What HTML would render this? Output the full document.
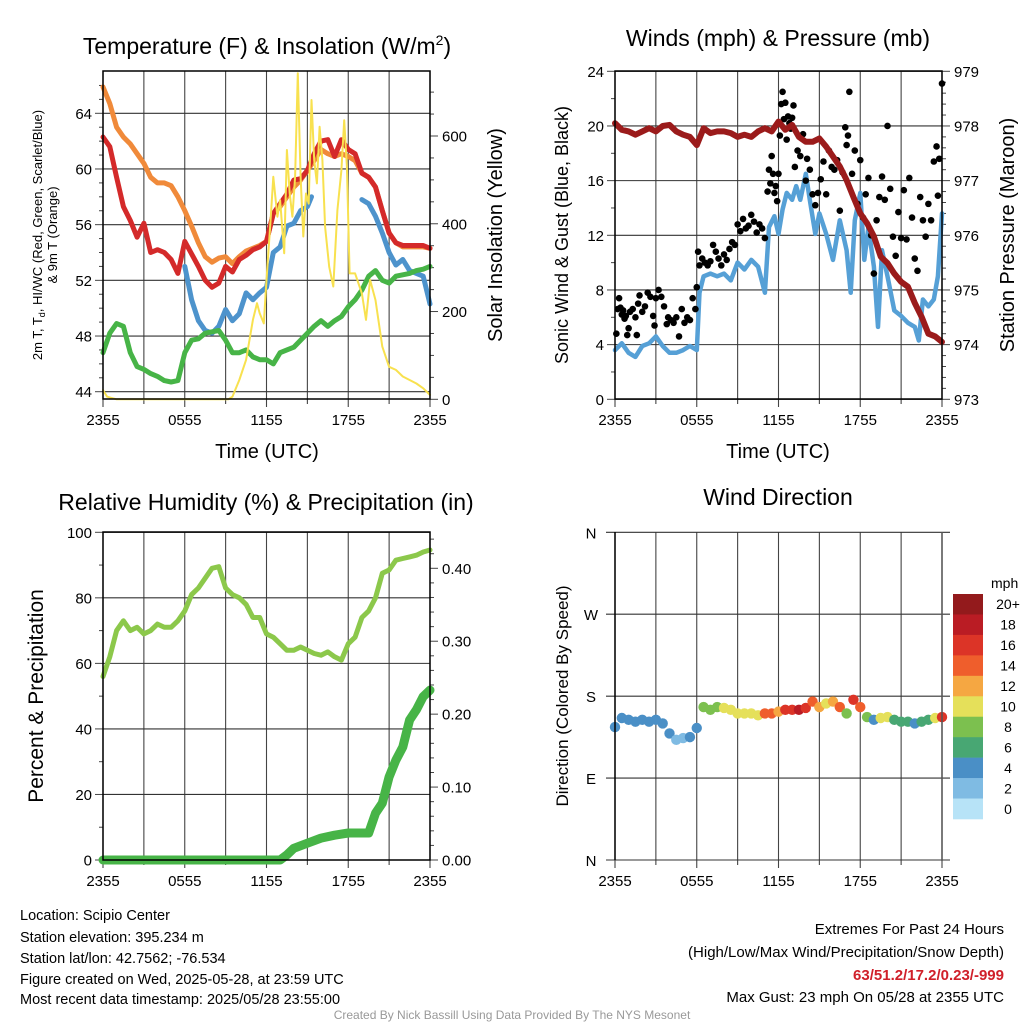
<!DOCTYPE html>
<html><head><meta charset="utf-8"><style>
html,body{margin:0;padding:0;background:#fff;}
svg{display:block;font-family:"Liberation Sans",sans-serif;}
</style></head><body>
<svg id="c" width="1024" height="1024" viewBox="0 0 1024 1024" xmlns="http://www.w3.org/2000/svg">
<g id="g"></g>
<text x="267" y="54" font-size="23" text-anchor="middle">Temperature (F) &amp; Insolation (W/m<tspan dy="-9" font-size="14">2</tspan><tspan dy="9">)</tspan></text>
<text x="778" y="46" font-size="23" text-anchor="middle">Winds (mph) &amp; Pressure (mb)</text>
<text x="266" y="510" font-size="23" text-anchor="middle">Relative Humidity (%) &amp; Precipitation (in)</text>
<text x="778" y="505" font-size="23" text-anchor="middle">Wind Direction</text>
<text x="267" y="458" font-size="20" text-anchor="middle">Time (UTC)</text>
<text x="778" y="458" font-size="20" text-anchor="middle">Time (UTC)</text>
<text transform="translate(42,235) rotate(-90)" font-size="13" text-anchor="middle">2m T, T<tspan dy="3" font-size="9">d</tspan><tspan dy="-3">, HI/WC (Red, Green, Scarlet/Blue)</tspan></text>
<text transform="translate(57,235) rotate(-90)" font-size="13" text-anchor="middle">&amp; 9m T (Orange)</text>
<text transform="translate(502,235) rotate(-90)" font-size="20" text-anchor="middle">Solar Insolation (Yellow)</text>
<text transform="translate(568,235) rotate(-90)" font-size="18" text-anchor="middle">Sonic Wind &amp; Gust (Blue, Black)</text>
<text transform="translate(1014,235) rotate(-90)" font-size="20" text-anchor="middle">Station Pressure (Maroon)</text>
<text transform="translate(43,696) rotate(-90)" font-size="21" text-anchor="middle">Percent &amp; Precipitation</text>
<text transform="translate(568,696) rotate(-90)" font-size="17" text-anchor="middle">Direction (Colored By Speed)</text>
<text x="991" y="588" font-size="14">mph</text>
<g font-size="14.5">
<text x="20" y="920">Location: Scipio Center</text>
<text x="20" y="942">Station elevation: 395.234 m</text>
<text x="20" y="963">Station lat/lon: 42.7562; -76.534</text>
<text x="20" y="984">Figure created on Wed, 2025-05-28, at 23:59 UTC</text>
<text x="20" y="1004">Most recent data timestamp: 2025/05/28 23:55:00</text>
</g>
<g font-size="15" text-anchor="end">
<text x="1004" y="934">Extremes For Past 24 Hours</text>
<text x="1004" y="957">(High/Low/Max Wind/Precipitation/Snow Depth)</text>
<text x="1004" y="980" fill="#d0202a" font-weight="bold">63/51.2/17.2/0.23/-999</text>
<text x="1004" y="1002">Max Gust: 23 mph On 05/28 at 2355 UTC</text>
</g>
<text x="512" y="1019" font-size="12" fill="#999" text-anchor="middle">Created By Nick Bassill Using Data Provided By The NYS Mesonet</text>
</svg>
<script>
// ---- data (hours since 2355) ----
const tempHours=[0,0.5,1,1.5,2,2.5,3,3.5,4,4.5,5,5.5,6,6.5,7,7.5,8,8.5,9,9.5,10,10.5,11,11.5,12,12.5,13,13.5,14,14.5,15,15.5,16,16.5,17,17.5,18,18.5,19,19.5,20,20.5,21,21.5,22,22.5,23,23.5,24];
const tempRed=[62.3,61.6,59.4,57.3,56.3,55.1,56.1,54,54.2,54,53.5,52.5,54.8,53.9,53,52,51.5,51.8,53,52.6,53.5,53.8,54.2,54.4,54.8,56.8,57.5,58.2,59.2,59.3,59.9,61.1,62,62.1,60.9,62.1,61.4,61.1,59.7,59.4,58.7,57,55.4,54.7,54.5,54.5,54.5,54.5,54.3];
const temp9m=[65.9,64.7,63,62.3,61.8,61.1,60.4,59.4,59,59,58.8,58,57,55.9,54.7,53.7,53.3,53.6,53.7,53.2,53.7,54.1,54.3,54.5,54.8,56.8,57.3,58,58.7,59.2,59.9,60.6,61.4,61.1,60.9,61.1,60.9,60.6,59.7,59.4,58.7,57,55.4,54.7,54.4,54.4,54.4,54.4,54.3];
const tempDew=[46.8,48.2,48.9,48.7,46.8,45.8,45.6,45.3,45.1,44.8,44.7,44.8,46.8,47.7,47.8,48.2,48.3,48.4,47.7,46.8,46.8,47,46.5,46.3,46.3,46,46.8,47,47.2,47.7,48.2,48.7,49.1,48.7,49.1,49.4,50.1,50.6,51.3,52.3,52.7,52,51.8,52.3,52.4,52.5,52.7,52.8,53];
const hiwcHours=[6,6.5,7,7.5,8,8.5,9,9.5,10,10.5,11,11.5,12,12.5,13,13.5,14,14.5,15,15.3,null,19,19.5,20,20.5,21,21.5,22,22.5,23,23.5,24];
const hiwc=[53,50.6,49.1,48.4,48.2,48.7,49.9,49.1,49.6,51.1,50.6,51.1,51.5,54,54.4,55.9,56.1,57,57.3,58,null,57.8,57.5,56.6,55.4,54,53.1,53.5,52.7,52.5,52.3,50.3];
const solHours=[0,0.3,1,9.2,9.5,10,10.5,11,11.3,11.5,11.8,12,12.3,12.5,12.8,13,13.3,13.5,13.7,13.9,14.1,14.3,14.5,14.7,14.9,15.1,15.3,15.5,15.7,15.9,16.1,16.3,16.6,16.9,17.2,17.5,17.7,17.9,18.1,18.5,19,19.3,19.6,20,20.5,21,21.5,22,22.5,23,23.5,24];
const solar=[21,6,0,0,6,44,90,181,219,196,173,272,409,507,416,454,333,568,469,416,507,743,507,371,469,446,682,545,492,621,545,393,302,257,431,522,636,530,287,287,241,181,272,226,120,74,67,52,44,36,25,10];
const windHours=[0,0.5,1,1.5,2,2.5,3,3.5,4,4.5,5,5.5,6,6.2,6.5,7,7.5,8,8.5,9,9.5,10,10.5,11,11.3,11.7,12,12.3,12.6,13,13.3,13.6,14,14.3,14.7,15,15.5,16,16.5,17,17.3,17.6,18,18.3,18.6,19,19.3,19.6,20,20.5,21,21.5,22,22.3,22.6,23,23.4,23.7,24];
const windSpeed=[3.6,4.1,3.4,3.1,3.9,4.1,4.6,3.9,3.4,3.4,3.6,3.9,3.6,7.8,9,9.2,9,9.2,8.7,10,9.5,10.2,9.7,7.8,12.6,13.4,12.1,13.9,15.1,14.6,15.6,14.6,16.5,14.6,12.1,13.6,12.1,10.2,13.1,10.9,7.8,13.1,15.1,10.2,12.6,9.7,5.3,10.9,9,6.5,6.1,5.6,5.3,4.3,7.3,6.8,7.3,9,13.6];
const gustHours=[0.1,0.2,0.3,0.4,0.5,0.6,0.7,0.8,0.9,1.0,1.1,1.3,1.5,1.6,1.7,1.8,2.0,2.2,2.4,2.6,2.8,2.9,3.0,3.2,3.4,3.6,3.8,3.9,4.1,4.3,4.5,4.7,4.9,5.1,5.3,5.5,5.7,5.9,6.0,6.1,6.2,6.4,6.6,6.8,7.0,7.2,7.4,7.6,7.8,8.0,8.2,8.4,8.6,8.8,9.0,9.2,9.4,9.6,9.8,10.0,10.2,10.4,10.6,10.8,11.0,11.2,11.3,11.4,11.5,11.6,11.7,11.8,11.9,12.0,12.1,12.2,12.3,12.4,12.5,12.6,12.7,12.8,12.9,13.0,13.1,13.2,13.4,13.6,13.8,14.0,14.1,14.3,14.5,14.7,14.9,15.1,15.3,15.5,15.7,15.9,16.1,16.3,16.5,16.7,16.9,17.0,17.1,17.2,17.4,17.6,17.8,18.0,18.2,18.4,18.6,18.8,19.0,19.2,19.4,19.6,19.8,20.0,20.2,20.4,20.6,20.8,21.0,21.2,21.4,21.6,21.8,22.0,22.2,22.4,22.6,22.8,23.0,23.2,23.4,23.6,23.7,23.8,24.0];
const gust=[4.8,6.6,7.4,6.7,6.2,6.5,5.9,6.1,4.7,5.2,6.4,6.6,6.0,4.7,7.0,7.6,6.4,6.8,7.8,7.5,6.1,5.4,7.4,8.0,7.5,6.8,5.5,6.0,5.8,5.6,6.0,4.6,6.6,5.6,6.0,5.8,7.4,6.6,8.2,10.8,9.8,10.3,10.0,9.8,10.1,11.3,10.8,10.3,9.8,10.6,10.2,11.0,11.5,11.3,12.8,12.3,13.2,12.5,12.7,13.5,13.0,12.2,12.8,12.5,11.8,15.2,16.8,15.8,17.8,16.5,15.1,15.6,14.5,16.5,19.3,21.6,22.5,20.5,21.7,19.0,20.7,20.2,19.8,20.6,21.5,17.0,18.2,17.8,19.4,16.0,17.6,16.8,15.0,14.2,15.1,16.1,17.4,15.0,18.2,17.0,16.8,17.5,13.8,16.6,19.9,18.6,19.3,22.5,16.5,18.2,14.3,17.5,13.3,15.0,16.2,12.0,9.2,13.1,14.8,16.3,14.6,20.0,15.4,11.9,10.5,13.7,11.8,15.3,11.7,16.2,13.3,10.3,9.4,14.8,13.1,11.9,14.3,13.1,17.4,18.5,14.9,17.6,23.1];
const presHours=tempHours;
const pressure=[978.05,977.93,977.9,977.84,977.9,977.96,977.9,978,978.02,977.9,977.84,977.8,977.65,977.96,977.87,977.9,977.9,977.87,977.8,977.84,977.8,977.9,977.96,977.9,978.08,977.93,978.02,977.8,977.71,977.71,977.77,977.62,977.44,977.26,977.01,976.7,976.4,976.22,975.98,975.61,975.49,975.3,975.15,975.06,974.76,974.51,974.2,974.15,974.05];
const rh=[56,62,70,73,70,71,69,70,72,71,71,73,76,81,83,86,89,89.5,83,81,80,78,74,74,69,68,66,64,64,65,64,63,62.5,63.5,62,61,66,68,74,76,80,87.5,88.5,91.5,92,92.5,93,94,94.6];
const precipHours=[0,13,13.5,14,15,16,17,18,19,19.5,20,20.5,21,21.5,22,22.5,23,23.5,24];
const precip=[0,0,0.007,0.016,0.023,0.03,0.034,0.037,0.037,0.037,0.064,0.078,0.114,0.137,0.155,0.192,0.206,0.224,0.233];
const dirHours=tempHours;
const direction=[146,156,154,152,154,152,154,150,139,132,134,135,145,168,165,168,167,165,161,161,161,159,161,161,163,165,165,165,167,174,168,172,174,168,161,176,168,157,154,156,157,154,152,152,150,152,154,156,157];
const dirSpeed=[4,4,4,4,4,4,4,4,3,2.5,2.5,3,4,8,8,8.5,9,10,10,10,10,9,13,14,12.5,16,16,17,16,14,12,10,11,14,8,16,14,7,4,10,10,6,6,6,4,6,6,10,15];
const xTickLabels=["2355","0555","1155","1755","2355"];
const cbLabels=["20+","18","16","14","12","10","8","6","4","2","0"];
const cbColors=["#931a1c","#ba1c24","#dc3427","#ef5e2c","#f5a742","#e5e05a","#7cc04f","#48a773","#4a8fc6","#7fbbe3","#b7e3f7"];

const NS="http://www.w3.org/2000/svg";
const G=document.getElementById('g');
function mk(tag,attrs,parent){const e=document.createElementNS(NS,tag);for(const k in attrs)e.setAttribute(k,attrs[k]);(parent||G).appendChild(e);return e;}
function lin(d0,d1,r0,r1){return v=>r0+(v-d0)*(r1-r0)/(d1-d0);}

function frame(x0,x1,y0,y1,name){
  const gr=mk('g',{});
  
  
  const xs=lin(0,24,x0,x1);
  for(let h=0;h<=24;h+=3){const x=xs(h);mk('line',{x1:x,x2:x,y1:y0,y2:y1+(h%6===0?8:5),stroke:'#444','stroke-width':1.1},gr);}
  xTickLabels.forEach((t,i)=>{const tx=mk('text',{x:xs(i*6),y:y1+26,'font-size':15,'text-anchor':'middle'});tx.textContent=t;
    
    });
  return xs;
}
function yaxis(ys,x0,x1,lo,hi,step,minor,labels,side,grid,name){
  const gr=mk('g',{});
  
  
  for(let v=lo;v<=hi+1e-9;v+=minor){const y=ys(v);const major=Math.abs((v-lo)/step-Math.round((v-lo)/step))<1e-6;
    if(side==='l'){mk('line',{x1:x0-(major?8:4),x2:x0,y1:y,y2:y,stroke:'#444'},gr);}
    else{mk('line',{x1:x1,x2:x1+(major?8:4),y1:y,y2:y,stroke:'#444'},gr);}
    if(major&&grid)mk('line',{x1:x0,x2:x1,y1:y,y2:y,stroke:'#333','stroke-width':1.1},gr);
  }
  labels.forEach(([v,t])=>{const y=ys(v);const tx=mk('text',{x:side==='l'?x0-11:x1+12,y:y+5.5,'font-size':15,'text-anchor':side==='l'?'end':'start'},gr);tx.textContent=t;});
}
function line(xs,ys,hs,vs,color,w,name){
  let d='',pen=false;
  hs.forEach((h,i)=>{if(h===null||vs[i]===null){pen=false;return;}d+=(pen?'L':'M')+xs(h).toFixed(1)+','+ys(vs[i]).toFixed(1);pen=true;});
  const p=mk('path',{d:d,fill:'none',stroke:color,'stroke-width':w,'stroke-linejoin':'round','stroke-linecap':'round'});
  
  
  return p;
}

// Panel 1
const p1={x0:103,x1:430,y0:71,y1:399};
let xs=frame(p1.x0,p1.x1,p1.y0,p1.y1,'temp');
let ysT=lin(44,64,391.7,113.3), ysS=lin(0,600,399.3,136);
yaxis(ysT,p1.x0,p1.x1,44,66,4,1,[[44,'44'],[48,'48'],[52,'52'],[56,'56'],[60,'60'],[64,'64']],'l',true,'temp-left-axis');
yaxis(ysS,p1.x0,p1.x1,0,700,200,50,[[0,'0'],[200,'200'],[400,'400'],[600,'600']],'r',false,'insolation-right-axis');
line(xs,ysT,tempHours,temp9m,'#f08a3a',5,'series-9m-temp');
line(xs,ysT,tempHours,tempRed,'#d42a2a',5,'series-2m-temp');
line(xs,ysT,hiwcHours,hiwc,'#4d93cc',5,'series-heat-index');
line(xs,ysT,tempHours,tempDew,'#47b447',5,'series-dewpoint');
line(xs,ysS,solHours,solar,'#f8e14f',2,'series-insolation');
mk('rect',{x:p1.x0,y:p1.y0,width:p1.x1-p1.x0,height:p1.y1-p1.y0,fill:'none',stroke:'#000','stroke-width':1.5});

// Panel 2
const p2={x0:615,x1:942,y0:71,y1:399};
xs=frame(p2.x0,p2.x1,p2.y0,p2.y1,'wind');
let ysW=lin(0,24,399.3,71.3), ysP=lin(973,979,399.3,71.3);
yaxis(ysW,p2.x0,p2.x1,0,24,4,2,[[0,'0'],[4,'4'],[8,'8'],[12,'12'],[16,'16'],[20,'20'],[24,'24']],'l',true,'wind-left-axis');
yaxis(ysP,p2.x0,p2.x1,973,979,1,0.2,[[973,'973'],[974,'974'],[975,'975'],[976,'976'],[977,'977'],[978,'978'],[979,'979']],'r',false,'pressure-right-axis');
line(xs,ysW,windHours,windSpeed,'#56a0d6',4.5,'series-wind-speed');
gustHours.forEach((h,i)=>{const c=mk('circle',{cx:xs(h),cy:ysW(gust[i]),r:3.3,fill:'#000'});
  
  });
line(xs,ysP,presHours,pressure,'#9b1b1b',6,'series-pressure');
mk('rect',{x:p2.x0,y:p2.y0,width:p2.x1-p2.x0,height:p2.y1-p2.y0,fill:'none',stroke:'#000','stroke-width':1.5});

// Panel 3
const p3={x0:103,x1:430,y0:532,y1:860};
xs=frame(p3.x0,p3.x1,p3.y0,p3.y1,'rh');
let ysR=lin(0,100,860,532.3), ysQ=lin(0,0.4,860,568.3);
yaxis(ysR,p3.x0,p3.x1,0,100,20,10,[[0,'0'],[20,'20'],[40,'40'],[60,'60'],[80,'80'],[100,'100']],'l',true,'rh-left-axis');
yaxis(ysQ,p3.x0,p3.x1,0,0.44,0.1,0.02,[[0,'0.00'],[0.1,'0.10'],[0.2,'0.20'],[0.3,'0.30'],[0.4,'0.40']],'r',false,'precip-right-axis');
line(xs,ysR,tempHours,rh,'#8cc84b',5,'series-rh');
line(xs,ysQ,precipHours,precip,'#47b447',9,'series-precip');
mk('rect',{x:p3.x0,y:p3.y0,width:p3.x1-p3.x0,height:p3.y1-p3.y0,fill:'none',stroke:'#000','stroke-width':1.5});

// Panel 4
const p4={x0:615,x1:942,y0:532,y1:860};
xs=frame(p4.x0,p4.x1,p4.y0,p4.y1,'dir');
let ysD=lin(0,360,860,532.3);
[[360,'N'],[270,'W'],[180,'S'],[90,'E'],[0,'N']].forEach(([v,t])=>{const y=ysD(v);
  const l=mk('line',{x1:606,x2:950,y1:y,y2:y,stroke:'#333','stroke-width':1.1});
  
  
  const tx=mk('text',{x:591,y:y+6,'font-size':15,'text-anchor':'middle'});tx.textContent=t;
  
  });
dirHours.forEach((h,i)=>{const idx=10-Math.min(10,Math.round(dirSpeed[i]/2));
  const c=mk('circle',{cx:xs(h),cy:ysD(direction[i]),r:5.2,fill:cbColors[idx]});
  
  });
mk('line',{x1:p4.x0,x2:p4.x0,y1:p4.y0,y2:p4.y1,stroke:'#000','stroke-width':1.5});
mk('line',{x1:p4.x1,x2:p4.x1,y1:p4.y0,y2:p4.y1,stroke:'#555','stroke-width':1.5});
// colorbar
const cbH=225/11;
cbColors.forEach((col,i)=>{const r=mk('rect',{x:953,y:594+i*cbH,width:30,height:cbH+0.3,fill:col});
  
  
  const tx=mk('text',{x:1008,y:594+i*cbH+cbH/2+5,'font-size':14,'text-anchor':'middle'});tx.textContent=cbLabels[i];
  
  });
</script>
</body></html>
